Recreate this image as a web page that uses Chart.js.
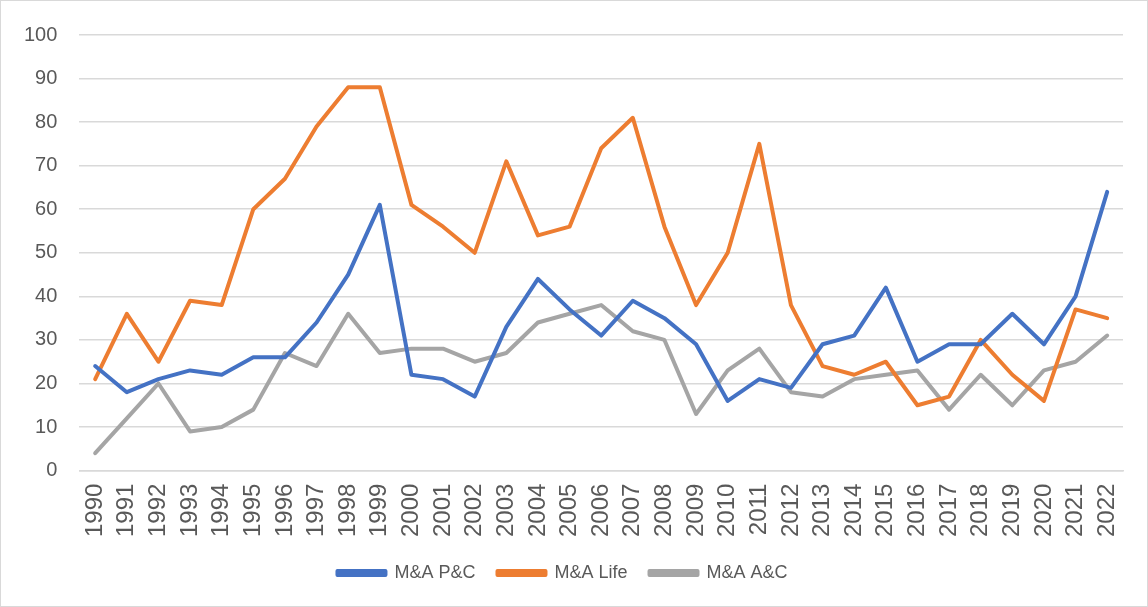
<!DOCTYPE html>
<html>
<head>
<meta charset="utf-8">
<script src="https://cdn.jsdelivr.net/npm/chart.js@4"></script>
<style>
  html, body { margin: 0; padding: 0; background: #fff; }
  #wrap { width: 1148px; height: 607px; position: relative; box-sizing: border-box; border: 1px solid #d9d9d9; }
</style>
</head>
<body>
<div id="wrap"><canvas id="line"></canvas></div>
<script>
// years on the x axis
var years = [];
for (var y = 1990; y <= 2022; y++) years.push(String(y));

var pcValues = [24, 18, 21, 23, 22, 26, 26, 34, 45, 61, 22, 21, 17, 33, 44, 37, 31, 39, 35, 29, 16, 21, 19, 29, 31, 42, 25, 29, 29, 36, 29, 40, 64];
var lifeValues = [21, 36, 25, 39, 38, 60, 67, 79, 88, 88, 61, 56, 50, 71, 54, 56, 74, 81, 56, 38, 50, 75, 38, 24, 22, 25, 15, 17, 30, 22, 16, 37, 35];
var acValues = [4, 12, 20, 9, 10, 14, 27, 24, 36, 27, 28, 28, 25, 27, 34, 36, 38, 32, 30, 13, 23, 28, 18, 17, 21, 22, 23, 14, 22, 15, 23, 25, 31];

var yMin = 0, yMax = 100, yStep = 10;

function serie(label, data, color) {
  return {
    label: label,
    data: data,
    borderColor: color,
    backgroundColor: color,
    borderWidth: 4,
    pointRadius: 0,
    tension: 0,
    fill: false,
    borderCapStyle: 'round',
    borderJoinStyle: 'round'
  };
}

var ctx = document.getElementById('line');
var myChart = new Chart(ctx, {
  type: 'line',
  data: {
    labels: years,
    datasets: [
      serie('M&A P&C', pcValues, '#4472C4'),
      serie('M&A Life', lifeValues, '#ED7D31'),
      serie('M&A A&C', acValues, '#A5A5A5')
    ]
  },
  options: {
    responsive: true,
    maintainAspectRatio: false,
    animation: false,
    layout: { padding: { left: 1, right: 24, top: 29, bottom: 14 } },
    plugins: {
      tooltip: { enabled: false },
      legend: {
        position: 'bottom',
        labels: {
          font: { family: 'Liberation Sans', size: 18 },
          color: '#595959',
          boxWidth: 48,
          boxHeight: 4,
          padding: 22
        }
      }
    },
    scales: {
      x: {
        offset: true,
        grid: { display: false },
        border: { color: '#d9d9d9', width: 1.5 },
        ticks: {
          minRotation: 90,
          maxRotation: 90,
          autoSkip: false,
          padding: 5,
          color: '#595959',
          font: { family: 'Liberation Sans', size: 24 }
        }
      },
      y: {
        min: yMin,
        max: yMax,
        grid: { color: '#d9d9d9', lineWidth: 1.5, drawTicks: false },
        border: { display: false },
        ticks: {
          stepSize: yStep,
          padding: 22,
          color: '#595959',
          font: { family: 'Liberation Sans', size: 20 }
        }
      }
    }
  }
});
</script>
</body>
</html>
